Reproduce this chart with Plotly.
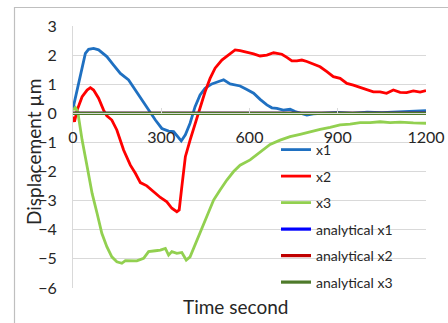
import plotly.graph_objects as go

# ---------------- data ----------------
t1 = [0, 25, 42, 53, 70, 87, 115, 138, 161, 189, 212, 234, 257, 280, 302, 325, 342, 355, 368, 382, 398,
      415, 432, 449, 472, 500, 512, 534, 551, 568, 591, 614, 636, 659, 676, 693, 715, 738, 755, 772, 795,
      817, 850, 900, 950, 1000, 1050, 1100, 1150, 1200]
x1 = [0.17, 1.26, 2.06, 2.2, 2.23, 2.18, 1.95, 1.66, 1.37, 1.15, 0.8, 0.46, 0.11, -0.23, -0.52, -0.61,
      -0.63, -0.8, -0.95, -0.74, -0.34, 0.23, 0.63, 0.86, 1.01, 1.11, 1.15, 1.01, 0.97, 0.94, 0.82, 0.69,
      0.48, 0.29, 0.19, 0.17, 0.11, 0.14, 0.06, 0.02, -0.06, -0.02, 0.0, 0.03, 0.0, 0.04, 0.02, 0.05,
      0.07, 0.09]

t2 = [0, 5, 14, 31, 48, 59, 70, 87, 104, 115, 132, 149, 172, 195, 212, 229, 251, 274, 297, 319, 336, 353,
      361, 370, 382, 398, 415, 432, 449, 466, 483, 506, 534, 551, 568, 591, 614, 636, 659, 682, 710, 727,
      744, 761, 778, 795, 817, 840, 863, 885, 908, 931, 953, 976, 999, 1021, 1044, 1066, 1089, 1112,
      1134, 1157, 1180, 1200]
x2 = [-0.11, -0.29, 0.11, 0.57, 0.8, 0.88, 0.8, 0.52, 0.11, -0.09, -0.23, -0.57, -1.26, -1.78, -2.06,
      -2.38, -2.49, -2.69, -2.89, -3.04, -3.26, -3.38, -3.32, -2.52, -1.49, -0.92, -0.34, 0.23, 0.74, 1.2,
      1.55, 1.83, 2.06, 2.18, 2.15, 2.1, 2.04, 1.97, 2.0, 2.08, 2.03, 1.92, 1.8, 1.8, 1.83, 1.78, 1.7,
      1.6, 1.43, 1.26, 1.2, 1.03, 0.97, 0.89, 0.8, 0.74, 0.74, 0.69, 0.8, 0.72, 0.71, 0.77, 0.73, 0.78]

t3 = [0, 8, 16, 31, 48, 65, 82, 98, 115, 132, 149, 166, 178, 195, 217, 240, 257, 280, 297, 314, 325, 336,
      353, 370, 385, 398, 415, 432, 455, 478, 500, 523, 546, 568, 602, 636, 670, 704, 738, 772, 806, 840,
      874, 908, 942, 976, 1010, 1044, 1078, 1112, 1157, 1200]
x3 = [0.11, 0.2, 0.06, -0.92, -1.83, -2.75, -3.44, -4.12, -4.58, -4.93, -5.1, -5.15, -5.06, -5.07, -5.07,
      -4.98, -4.75, -4.72, -4.7, -4.64, -4.87, -4.75, -4.81, -4.78, -5.04, -4.93, -4.52, -4.12, -3.55,
      -2.98, -2.63, -2.29, -2.0, -1.78, -1.6, -1.35, -1.07, -0.92, -0.8, -0.72, -0.63, -0.55, -0.48, -0.4,
      -0.37, -0.32, -0.32, -0.29, -0.32, -0.3, -0.33, -0.34]

t_an = [0, 300, 600, 900, 1200]
an_x1 = [0, 0, 0, 0, 0]
an_x2 = [0, 0, 0, 0, 0]
an_x3 = [0, 0, 0, 0, 0]

x_ticks = [0, 300, 600, 900, 1200]
y_ticks = [3, 2, 1, 0, -1, -2, -3, -4, -5, -6]

names = ["x1", "x2", "x3", "analytical x1", "analytical x2", "analytical x3"]
colors = ["#1F70C1", "#FF0000", "#92D050", "#0000FF", "#C00000", "#4E7A2A"]

FONT = "Lato"
W, H = 448, 323
L, R, T, B = 73, 426, 26, 288

fig = go.Figure()
series = [(t1, x1), (t2, x2), (t3, x3), (t_an, an_x1), (t_an, an_x2), (t_an, an_x3)]
for i, ((tx, yy), nm, c) in enumerate(zip(series, names, colors)):
    fig.add_trace(go.Scatter(x=tx, y=yy, mode="lines", name=nm, legendgroup=nm,
                             line=dict(color=c, width=2.8 if i < 3 else 3.2)))

def px_x(p):
    return (p - L) / (R - L)

def px_y(p):
    return (B - p) / (B - T)

fig.update_layout(
    width=W, height=H,
    margin=dict(l=L, r=W - R, t=T, b=H - B, autoexpand=False),
    paper_bgcolor="white", plot_bgcolor="white",
    font=dict(family=FONT, color="#262626"),
    showlegend=True,
    legend=dict(x=px_x(276), y=px_y(134), xanchor="left", yanchor="top",
                bgcolor="rgba(0,0,0,0)", font=dict(size=14, family=FONT, color="#262626"),
                tracegroupgap=5.3, itemwidth=30),
    xaxis=dict(range=[0, 1200], tickvals=x_ticks, showgrid=False,
               anchor="free", position=6 / 9, automargin=False,
               showline=True, linecolor="#D9D9D9", linewidth=1,
               ticks="inside", ticklen=5, tickcolor="#D9D9D9",
               ticklabelstandoff=9,
               tickfont=dict(size=16, family=FONT, color="#262626"), zeroline=False),
    yaxis=dict(range=[-6, 3], tickvals=y_ticks, showgrid=True, gridcolor="#D9D9D9", gridwidth=1,
               showline=True, linecolor="#D9D9D9", linewidth=1, ticks="", automargin=False,
               ticklabelstandoff=12, zeroline=False,
               tickfont=dict(size=16, family=FONT, color="#262626")),
    annotations=[
        dict(text="Time second", xref="paper", yref="paper", x=px_x(235), y=px_y(306),
             showarrow=False, font=dict(size=19, family=FONT, color="#262626"),
             xanchor="center", yanchor="middle"),
        dict(text="Displacement µm", xref="paper", yref="paper", x=px_x(33), y=px_y(152),
             showarrow=False, textangle=-90, font=dict(size=19, family=FONT, color="#262626"),
             xanchor="center", yanchor="middle"),
    ],
    shapes=[
        dict(type="line", xref="paper", yref="paper", x0=px_x(14), x1=px_x(470), y0=px_y(7.5), y1=px_y(7.5),
             line=dict(color="#BFBFBF", width=1.2)),
        dict(type="line", xref="paper", yref="paper", x0=px_x(14.5), x1=px_x(14.5), y0=px_y(7), y1=px_y(340),
             line=dict(color="#BFBFBF", width=1.2)),
    ],
)

fig.write_html("out.html", config={"displayModeBar": False},
               post_script="document.body.style.margin='0';document.body.style.overflow='hidden';")
